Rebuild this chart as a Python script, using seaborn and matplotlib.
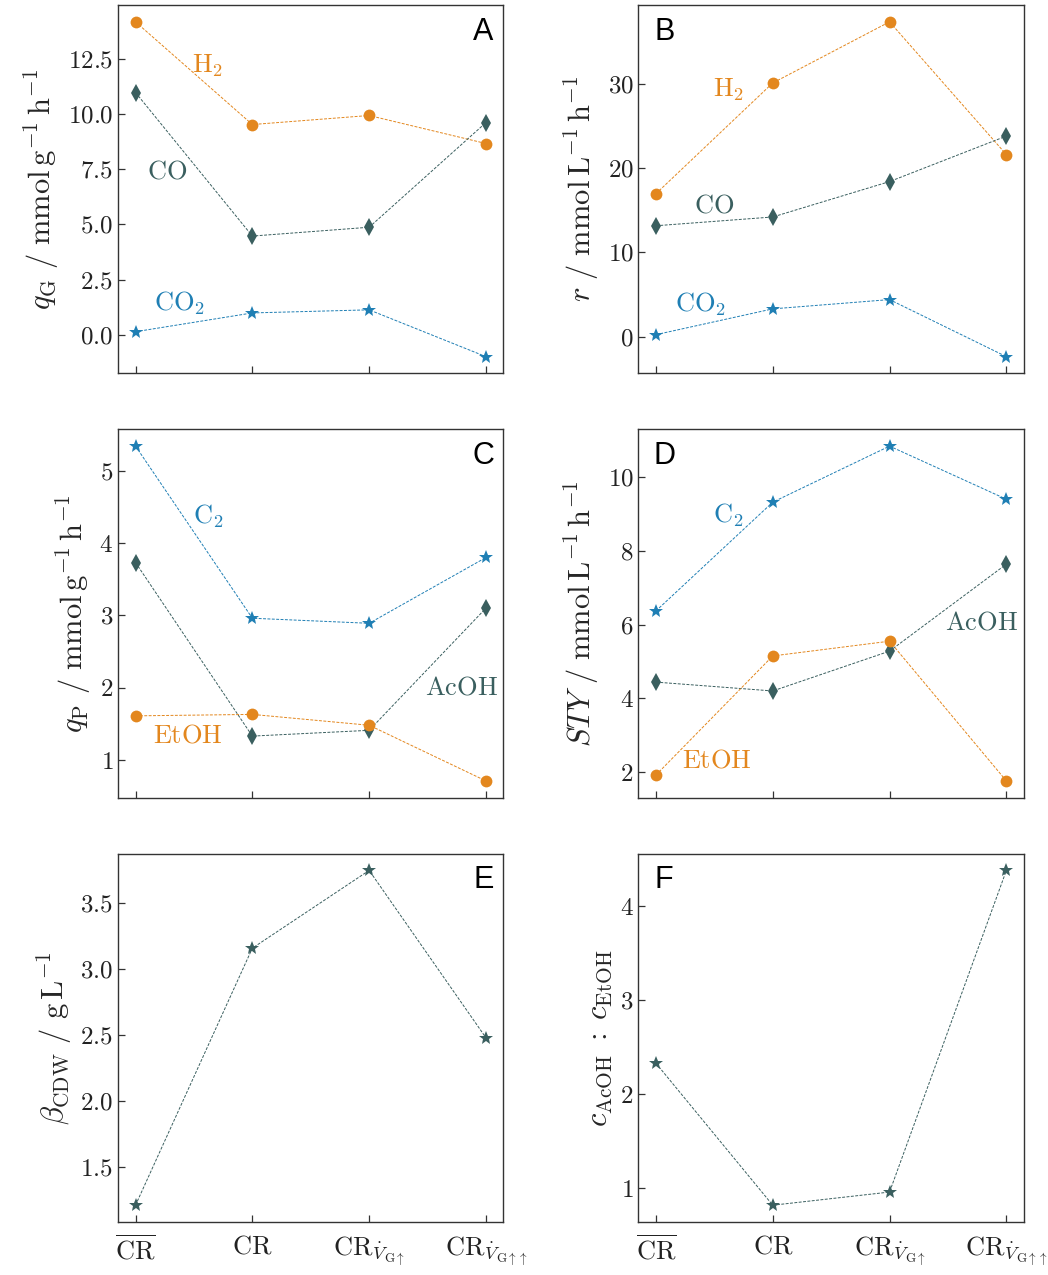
import numpy as np
import pandas as pd
import matplotlib
matplotlib.use("Agg")
import matplotlib.pyplot as plt
import matplotlib.ticker as mticker
import seaborn as sns

# ---------------- data ----------------
categories = [r'$\overline{\mathrm{CR}}$', r'$\mathrm{CR}$',
              r'$\mathrm{CR}_{\dot{V}_{\mathrm{G}\uparrow}}$',
              r'$\mathrm{CR}_{\dot{V}_{\mathrm{G}\uparrow\uparrow}}$']

qG_H2 = [14.17, 9.52, 9.93, 8.66]
qG_CO = [10.97, 4.47, 4.87, 9.61]
qG_CO2 = [0.14, 0.99, 1.13, -0.99]

r_H2 = [16.96, 30.1, 37.35, 21.6]
r_CO = [13.16, 14.2, 18.4, 23.8]
r_CO2 = [0.24, 3.3, 4.4, -2.37]

qP_C2 = [5.34, 2.96, 2.89, 3.80]
qP_AcOH = [3.73, 1.33, 1.41, 3.10]
qP_EtOH = [1.61, 1.63, 1.48, 0.71]

STY_C2 = [6.37, 9.32, 10.84, 9.40]
STY_AcOH = [4.44, 4.20, 5.28, 7.64]
STY_EtOH = [1.92, 5.15, 5.55, 1.76]

beta_CDW = [1.21, 3.16, 3.75, 2.48]
ratio_AcOH_EtOH = [2.33, 0.82, 0.96, 4.38]

# ---------------- style ----------------
ORANGE = '#E3871E'
SLATE = '#3A5F5F'
BLUE = '#1F7FB4'

sns.set_style('ticks')
plt.rcParams.update({
    'font.family': 'serif',
    'font.serif': ['cmr10'],
    'mathtext.fontset': 'cm',
    'axes.formatter.use_mathtext': True,
    'axes.unicode_minus': False,
    'xtick.direction': 'in',
    'ytick.direction': 'in',
    'axes.edgecolor': '#333333',
    'axes.linewidth': 1.0,
    'xtick.color': '#333333',
    'ytick.color': '#333333',
    'xtick.labelcolor': '#222222',
    'ytick.labelcolor': '#222222',
})

fig, axes = plt.subplots(3, 2, figsize=(10.48, 12.75), dpi=100)
fig.subplots_adjust(left=0.1126, right=0.977, top=0.996, bottom=0.0416,
                    wspace=0.35, hspace=0.152)

styles = {
    'o': dict(marker='o', markersize=8.5),
    'd': dict(marker='d', markersize=9),
    '*': dict(marker='*', markersize=10.5),
}


def draw(ax, vals, color, mk):
    df = pd.DataFrame({'cat': categories, 'val': vals})
    sns.lineplot(data=df, x='cat', y='val', ax=ax, color=color, sort=False,
                 linestyle=(0, (3, 1.5)), linewidth=0.7,
                 markeredgewidth=0, **styles[mk])


TXT = 19

# A
ax = axes[0, 0]
draw(ax, qG_H2, ORANGE, 'o')
draw(ax, qG_CO, SLATE, 'd')
draw(ax, qG_CO2, BLUE, '*')
ax.text(0.62, 12.2, r'$\mathrm{H_2}$', color=ORANGE, fontsize=TXT, ha='center', va='center')
ax.text(0.27, 7.4, r'$\mathrm{CO}$', color=SLATE, fontsize=TXT, ha='center', va='center')
ax.text(0.38, 1.45, r'$\mathrm{CO_2}$', color=BLUE, fontsize=TXT, ha='center', va='center')
ax.set_ylabel(r'$q_\mathrm{G}\ /\ \mathrm{mmol\,g^{-1}\,h^{-1}}$')

# B
ax = axes[0, 1]
draw(ax, r_H2, ORANGE, 'o')
draw(ax, r_CO, SLATE, 'd')
draw(ax, r_CO2, BLUE, '*')
ax.text(0.62, 29.3, r'$\mathrm{H_2}$', color=ORANGE, fontsize=TXT, ha='center', va='center')
ax.text(0.5, 15.5, r'$\mathrm{CO}$', color=SLATE, fontsize=TXT, ha='center', va='center')
ax.text(0.38, 3.9, r'$\mathrm{CO_2}$', color=BLUE, fontsize=TXT, ha='center', va='center')
ax.set_ylabel(r'$r\ /\ \mathrm{mmol\,L^{-1}\,h^{-1}}$')

# C
ax = axes[1, 0]
draw(ax, qP_C2, BLUE, '*')
draw(ax, qP_AcOH, SLATE, 'd')
draw(ax, qP_EtOH, ORANGE, 'o')
ax.text(0.62, 4.37, r'$\mathrm{C_2}$', color=BLUE, fontsize=TXT, ha='center', va='center')
ax.text(0.45, 1.34, r'$\mathrm{EtOH}$', color=ORANGE, fontsize=TXT, ha='center', va='center')
ax.text(2.79, 2.0, r'$\mathrm{AcOH}$', color=SLATE, fontsize=TXT, ha='center', va='center')
ax.set_ylabel(r'$q_\mathrm{P}\ /\ \mathrm{mmol\,g^{-1}\,h^{-1}}$')

# D
ax = axes[1, 1]
draw(ax, STY_C2, BLUE, '*')
draw(ax, STY_AcOH, SLATE, 'd')
draw(ax, STY_EtOH, ORANGE, 'o')
ax.text(0.62, 8.97, r'$\mathrm{C_2}$', color=BLUE, fontsize=TXT, ha='center', va='center')
ax.text(2.79, 6.04, r'$\mathrm{AcOH}$', color=SLATE, fontsize=TXT, ha='center', va='center')
ax.text(0.52, 2.30, r'$\mathrm{EtOH}$', color=ORANGE, fontsize=TXT, ha='center', va='center')
ax.set_ylabel(r'$STY\ /\ \mathrm{mmol\,L^{-1}\,h^{-1}}$')

# E
ax = axes[2, 0]
draw(ax, beta_CDW, SLATE, '*')
ax.set_ylabel(r'$\beta_\mathrm{CDW}\ /\ \mathrm{g\,L^{-1}}$')

# F
ax = axes[2, 1]
draw(ax, ratio_AcOH_EtOH, SLATE, '*')
ax.set_ylabel(r'$c_\mathrm{AcOH}\;:\;c_\mathrm{EtOH}$')
ax.yaxis.set_major_locator(mticker.MultipleLocator(1))

letters = ['A', 'B', 'C', 'D', 'E', 'F']
for i, ax in enumerate(axes.flat):
    ax.set_xlabel('')
    ax.yaxis.label.set_size(22)
    ax.tick_params(axis='both', labelsize=18, length=5, width=0.9,
                   top=False, right=False)
    ax.tick_params(axis='x', pad=9)
    col = i % 2
    x = 0.948 if col == 0 else 0.067
    ax.text(x, 0.928, letters[i], transform=ax.transAxes, fontsize=22,
            family='Liberation Sans', ha='center', va='center', color='black')
    for s in ax.spines.values():
        s.set_visible(True)
    if i < 4:
        ax.tick_params(axis='x', labelbottom=False)

for ax in axes[2]:
    ax.tick_params(axis='x', labelsize=19)

fig.savefig('out.png', dpi=100)
